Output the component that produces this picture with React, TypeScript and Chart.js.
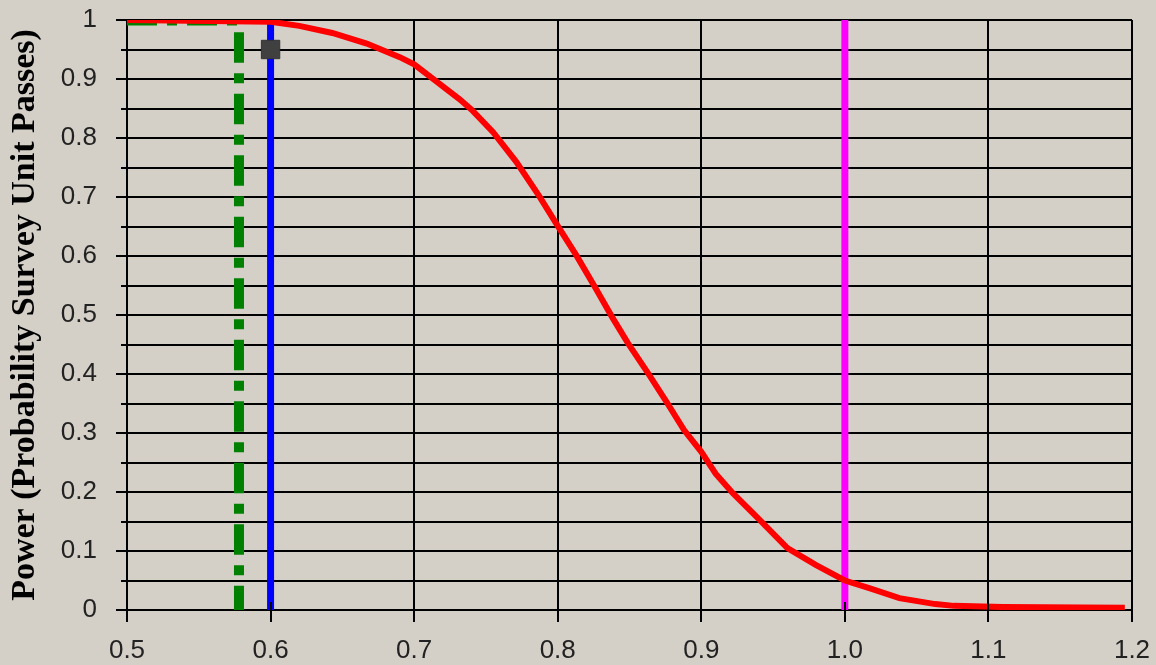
import React, { useEffect, useRef } from "react";
import { Chart, registerables } from "chart.js";

Chart.register(...registerables);

// Power curve (red)
const powerX = [0.5, 0.6, 0.62, 0.643, 0.667, 0.69, 0.7, 0.715, 0.7315, 0.74, 0.755, 0.771, 0.787, 0.8, 0.813, 0.826, 0.838, 0.849, 0.863, 0.876, 0.888, 0.9, 0.91, 0.922, 0.941, 0.96, 0.98, 1.0, 1.017, 1.038, 1.063, 1.076, 1.11, 1.195];
const powerY = [1.0, 0.997, 0.99, 0.978, 0.96, 0.937, 0.925, 0.897, 0.866, 0.848, 0.81, 0.76, 0.702, 0.651, 0.601, 0.547, 0.496, 0.452, 0.401, 0.352, 0.305, 0.268, 0.231, 0.198, 0.152, 0.105, 0.076, 0.05, 0.037, 0.02, 0.01, 0.007, 0.005, 0.004];

// Reference lines
const blueX = [0.6, 0.6];
const blueY = [0, 1];
const magentaX = [1.0, 1.0];
const magentaY = [0, 1];
const greenVX = [0.578, 0.578];
const greenVY = [0.994, 0];
const greenHX = [0.5, 0.578];
const greenHY = [0.994, 0.994];

// Marker point
const markerX = [0.6];
const markerY = [0.95];

// Axes
const xMin = 0.5;
const xMax = 1.2;
const xStep = 0.1;
const yMin = 0;
const yMax = 1;
const yStep = 0.05;
const yTitle = "Power (Probability Survey Unit Passes)";

const pts = (xs: number[], ys: number[]) => xs.map((x, i) => ({ x, y: ys[i] }));

const tickMarks = {
  id: "tickMarks",
  afterDatasetsDraw(chart: any) {
    const { ctx, chartArea, scales } = chart;
    ctx.save();
    ctx.strokeStyle = "#000";
    ctx.lineWidth = 2;
    scales.x.ticks.forEach((t: any) => {
      const px = Math.round(scales.x.getPixelForValue(t.value));
      ctx.beginPath();
      ctx.moveTo(px, chartArea.bottom - 8);
      ctx.lineTo(px, chartArea.bottom + 12);
      ctx.stroke();
    });
    scales.y.ticks.forEach((t: any) => {
      const py = Math.round(scales.y.getPixelForValue(t.value));
      const major = Math.round(t.value * 20) % 2 === 0;
      ctx.beginPath();
      ctx.moveTo(chartArea.left - (major ? 11 : 6), py);
      ctx.lineTo(chartArea.left, py);
      ctx.stroke();
    });
    ctx.restore();
  },
};

const zeroPad = (s: any) => {
  s.paddingTop = 0;
  s.paddingBottom = 0;
  s.paddingLeft = 0;
  s.paddingRight = 0;
};

export default function App() {
  const ref = useRef<HTMLCanvasElement | null>(null);
  useEffect(() => {
    if (!ref.current) return;
    const chart = new Chart(ref.current, {
      type: "scatter",
      data: {
        datasets: [
          {
            data: pts(markerX, markerY),
            pointStyle: "rect",
            pointRadius: 13,
            backgroundColor: "#404040",
            borderColor: "#333333",
            borderWidth: 1,
            showLine: false,
          },
          {
            data: pts(powerX, powerY),
            showLine: true,
            borderColor: "#ff0000",
            borderWidth: 6,
            pointRadius: 0,
            tension: 0,
          },
          {
            data: pts(greenHX, greenHY),
            showLine: true,
            borderColor: "#008000",
            borderWidth: 4,
            borderDash: [30, 10, 10, 10],
            pointRadius: 0,
          },
          {
            data: pts(blueX, blueY),
            showLine: true,
            borderColor: "#0000ff",
            borderWidth: 7,
            pointRadius: 0,
          },
          {
            data: pts(magentaX, magentaY),
            showLine: true,
            borderColor: "#ff00ff",
            borderWidth: 7,
            pointRadius: 0,
          },
          {
            data: pts(greenVX, greenVY),
            showLine: true,
            borderColor: "#008000",
            borderWidth: 10,
            borderDash: [30.5, 10.5, 10, 10.5],
            borderDashOffset: 52.8,
            pointRadius: 0,
          },
        ],
      },
      options: {
        animation: false,
        responsive: false,
        events: [],
        layout: { padding: { top: 20, right: 24, left: 0, bottom: 0 } },
        plugins: {
          legend: { display: false },
          tooltip: { enabled: false },
        },
        scales: {
          x: {
            type: "linear",
            min: xMin,
            max: xMax,
            afterFit: (s: any) => {
              s.height = 55;
              zeroPad(s);
            },
            ticks: {
              stepSize: xStep,
              autoSkip: false,
              maxRotation: 0,
              padding: 25,
              color: "#222",
              font: { family: "'Liberation Sans', Arial, sans-serif", size: 26 },
              callback: (v: any) => Number(v).toFixed(1),
            },
            grid: { color: "#000", lineWidth: 2, drawTicks: false },
            border: { display: true, color: "#000", width: 2 },
          },
          y: {
            type: "linear",
            min: yMin,
            max: yMax,
            afterFit: (s: any) => {
              s.width = 127;
              zeroPad(s);
            },
            ticks: {
              stepSize: yStep,
              autoSkip: false,
              padding: 30,
              color: "#222",
              font: { family: "'Liberation Sans', Arial, sans-serif", size: 26 },
              callback: (v: any) => {
                const k = Math.round(Number(v) * 20);
                if (k % 2 !== 0) return "";
                if (k === 0) return "0";
                if (k === 20) return "1";
                return (k / 20).toFixed(1);
              },
            },
            grid: { color: "#000", lineWidth: 2, drawTicks: false },
            border: { display: true, color: "#000", width: 2 },
            title: {
              display: true,
              text: yTitle,
              color: "#000",
              padding: { top: 5, bottom: 0 },
              font: { family: "'Liberation Serif', 'Times New Roman', serif", size: 34, weight: "bold" },
            },
          },
        },
      },
      plugins: [tickMarks],
    });
    return () => chart.destroy();
  }, []);
  return (
    <div
      style={{
        position: "fixed",
        left: 0,
        top: 0,
        width: 1156,
        height: 665,
        background: "#d4d0c8",
      }}
    >
      <canvas ref={ref} width={1156} height={665} style={{ display: "block" }} />
    </div>
  );
}
